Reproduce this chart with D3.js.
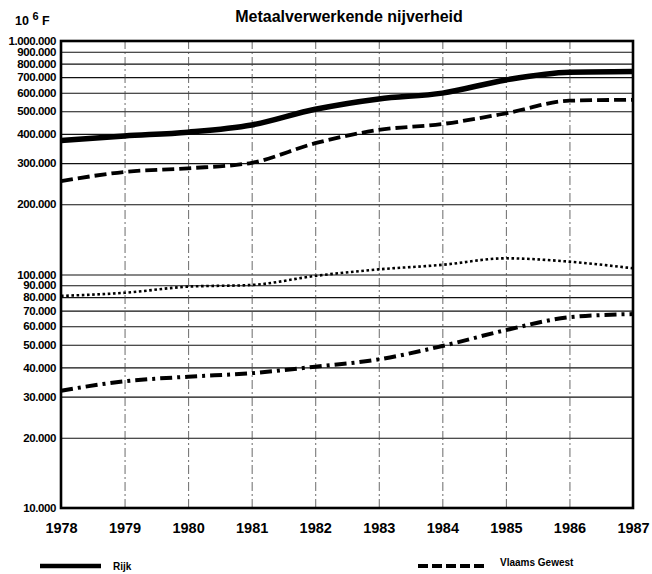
<!DOCTYPE html>
<html>
<head>
<meta charset="utf-8">
<script src="https://cdn.jsdelivr.net/npm/d3@7"></script>
<style>
  body { margin: 0; background: #fff; }
  svg { font-family: "Liberation Sans", Arial, sans-serif; }
</style>
</head>
<body>
<div id="chart"></div>
<script>
// Data
const years = [1978, 1979, 1980, 1981, 1982, 1983, 1984, 1985, 1986, 1987];
const rijk = [375000, 392000, 407000, 437000, 510000, 565000, 598000, 681000, 735000, 740000];
const vlaams = [251000, 275000, 285000, 301000, 365000, 416000, 441000, 490000, 555000, 560000];
const dotted = [81000, 83500, 88700, 90200, 98600, 105200, 110000, 117300, 113500, 106300];
const dashDot = [31800, 34900, 36500, 37800, 40300, 43300, 49400, 57800, 65600, 67700];
const yTicks = [10000, 20000, 30000, 40000, 50000, 60000, 70000, 80000, 90000, 100000,
  200000, 300000, 400000, 500000, 600000, 700000, 800000, 900000, 1000000];

// Dimensions
const width = 652;
const height = 574;
const margin = { top: 41, right: 19, bottom: 66, left: 61 };
const innerWidth = width - margin.left - margin.right;
const innerHeight = height - margin.top - margin.bottom;

const svg = d3.select("#chart")
  .append("svg")
    .attr("width", width)
    .attr("height", height);

const g = svg.append("g")
    .attr("transform", `translate(${margin.left}, ${margin.top})`);

const xScale = d3.scaleLinear()
  .domain([1978, 1987])
  .range([0, innerWidth]);
const yScale = d3.scaleLog()
  .domain([10000, 1000000])
  .range([innerHeight, 0]);

const fmt = v => d3.format(",")(v).replace(/,/g, ".");

// Horizontal grid + labels
const leftAxis = d3.axisLeft(yScale)
  .tickValues(yTicks)
  .tickFormat(fmt)
  .tickSize(-innerWidth)
  .tickPadding(5);
g.append("g")
    .attr("class", "axis axis-y")
    .call(leftAxis)
    .call(a => a.select(".domain").remove())
    .call(a => a.selectAll("line").attr("stroke", "#111").attr("stroke-width", 1.1))
    .call(a => a.selectAll("text")
      .attr("fill", "#000")
      .attr("font-size", 11.5)
      .attr("font-weight", "bold")
      .attr("letter-spacing", -0.4));

// Vertical grid + year labels
const bottomAxis = d3.axisBottom(xScale)
  .tickValues(years)
  .tickFormat(d3.format("d"))
  .tickSize(-innerHeight)
  .tickPadding(15);
g.append("g")
    .attr("class", "axis axis-x")
    .attr("transform", `translate(0, ${innerHeight})`)
    .call(bottomAxis)
    .call(a => a.select(".domain").remove())
    .call(a => a.selectAll("line")
      .attr("stroke", "#444")
      .attr("stroke-width", 0.8)
      .attr("stroke-dasharray", "9,3,2,3"))
    .call(a => a.selectAll("text")
      .attr("fill", "#000")
      .attr("font-size", 14.5)
      .attr("font-weight", "bold"));

// Frame
g.append("rect")
    .attr("width", innerWidth)
    .attr("height", innerHeight)
    .attr("fill", "none")
    .attr("stroke", "#000")
    .attr("stroke-width", 2.6);

// Lines
const line = d3.line()
  .x((d, i) => xScale(years[i]))
  .y(d => yScale(d))
  .curve(d3.curveMonotoneX);

const series = [
  { values: rijk, width: 5.5, dash: null },
  { values: vlaams, width: 3.8, dash: "12,5" },
  { values: dotted, width: 2.6, dash: "2.6,2.6" },
  { values: dashDot, width: 4, dash: "12,5,3,5" }
];

g.append("g")
    .attr("class", "lines")
  .selectAll("path")
  .data(series)
  .join("path")
    .attr("d", d => line(d.values))
    .attr("fill", "none")
    .attr("stroke", "#000")
    .attr("stroke-width", d => d.width)
    .attr("stroke-dasharray", d => d.dash);

// Title
svg.append("text")
    .attr("x", 349)
    .attr("y", 22)
    .attr("text-anchor", "middle")
    .attr("font-size", 16)
    .attr("font-weight", "bold")
    .text("Metaalverwerkende nijverheid");

// Unit
const unit = svg.append("text")
    .attr("x", 15)
    .attr("y", 25)
    .attr("font-size", 12.5)
    .attr("font-weight", "bold");
unit.append("tspan").text("10 ");
unit.append("tspan").attr("dy", -5).attr("font-size", 11).text("6");
unit.append("tspan").attr("dy", 5).text(" F");

// Legend
const legend = svg.append("g").attr("class", "legend");
legend.append("line")
    .attr("x1", 40).attr("x2", 101)
    .attr("y1", 566).attr("y2", 566)
    .attr("stroke", "#000")
    .attr("stroke-width", 4.5);
legend.append("text")
    .attr("x", 113).attr("y", 570)
    .attr("font-size", 10)
    .attr("font-weight", "bold")
    .text("Rijk");
legend.append("line")
    .attr("x1", 418).attr("x2", 488)
    .attr("y1", 566).attr("y2", 566)
    .attr("stroke", "#000")
    .attr("stroke-width", 4)
    .attr("stroke-dasharray", "10,4");
legend.append("text")
    .attr("x", 500).attr("y", 566)
    .attr("font-size", 10)
    .attr("font-weight", "bold")
    .text("Vlaams Gewest");
</script>
</body>
</html>
